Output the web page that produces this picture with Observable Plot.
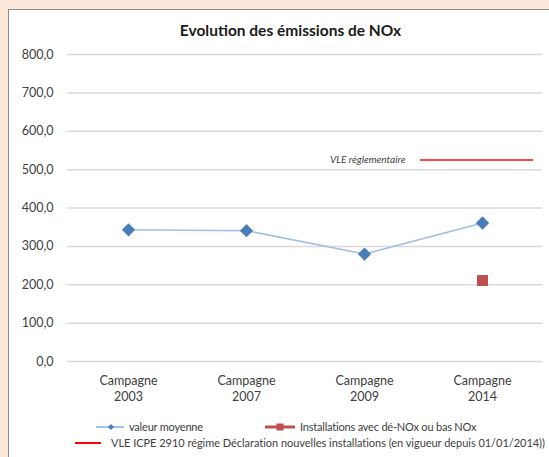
<!DOCTYPE html>
<html><head><meta charset="utf-8">
<script src="https://cdn.jsdelivr.net/npm/d3@7"></script>
<script src="https://cdn.jsdelivr.net/npm/@observablehq/plot@0.6"></script>
<style>
html,body{margin:0;padding:0;width:549px;height:457px;overflow:hidden;background:#fde9d9;font-family:Lato,"Open Sans",sans-serif;}
#box{position:absolute;left:8px;top:9px;width:560px;height:470px;background:#fff;border:1px solid #8c8c8c;box-sizing:border-box;}
#title{position:absolute;left:0;top:21px;width:581px;text-align:center;font-weight:bold;font-size:15.5px;color:#1a1a1a;line-height:18px;}
#chart{position:absolute;left:0;top:46px;}
.lg{position:absolute;font-size:11px;letter-spacing:-0.2px;color:#404040;white-space:nowrap;line-height:14px;display:flex;align-items:center;}
.lg svg{margin-right:3px;}
</style></head>
<body>
<div id="box"></div>
<div id="title">Evolution des émissions de NOx</div>
<div id="chart"></div>
<div class="lg" style="left:96px;top:420px;"><svg width="30" height="10"><line x1="0" y1="5" x2="28" y2="5" stroke="#9dc3e6" stroke-width="2"/><path d="M15 2L18 5L15 8L12 5Z" fill="#4a7ebb"/></svg><span id="l1"></span></div>
<div class="lg" style="left:265px;top:420px;"><svg width="32" height="10"><line x1="0" y1="5" x2="30" y2="5" stroke="#c0504d" stroke-width="3"/><rect x="11.5" y="1.5" width="7" height="7" fill="#c0504d"/></svg><span id="l2"></span></div>
<div class="lg" style="left:75px;top:436px;letter-spacing:-0.03px;"><svg width="33" height="10"><line x1="0" y1="5" x2="26" y2="5" stroke="#ff0000" stroke-width="2"/></svg><span id="l3"></span></div>
<script>
const categories = ["2003", "2007", "2009", "2014"];
const moyenne = [343, 341, 280, 361];
const deNoxCategories = ["2014"];
const deNoxValues = [211];
const vleCategory = "2014";
const vleValue = 525;
const vleLabel = "VLE réglementaire";
const yTicks = [0, 100, 200, 300, 400, 500, 600, 700, 800];
const legendLabels = ["valeur moyenne", "Installations avec dé-NOx ou bas NOx", "VLE ICPE 2910 régime Déclaration nouvelles installations (en vigueur depuis 01/01/2014))"];

document.getElementById("l1").textContent = legendLabels[0];
document.getElementById("l2").textContent = legendLabels[1];
document.getElementById("l3").textContent = legendLabels[2];

const mean = categories.map((c, i) => ({c, v: moyenne[i]}));
const denox = deNoxCategories.map((c, i) => ({c, v: deNoxValues[i]}));
const vle = [{c: vleCategory, v: vleValue}];
const fmt = d => d3.format(".1f")(d).replace(".", ",");

const chart = Plot.plot({
  width: 549,
  height: 365,
  marginLeft: 67,
  marginRight: 7,
  marginTop: 8,
  marginBottom: 50,
  style: {fontFamily: "Lato, 'Open Sans', sans-serif", background: "transparent", color: "#404040"},
  x: {type: "point", domain: categories, padding: 0.5},
  y: {domain: [0, 800]},
  marks: [
    Plot.gridY(yTicks, {stroke: "#d9d9d9", strokeOpacity: 1, strokeWidth: 1.5}),
    Plot.axisY(yTicks, {tickSize: 0, tickPadding: 14, tickFormat: fmt, fontSize: 12.5, label: null, fill: "#404040"}),
    Plot.axisX({tickSize: 0, tickPadding: 12, tickFormat: d => "Campagne\n" + d, fontSize: 12.5, lineHeight: 1.3, label: null, fill: "#404040"}),
    Plot.ruleY(vle, {y: "v", x1: "c", x2: "c", insetLeft: -62, insetRight: -51, stroke: "#ff4545", strokeWidth: 2}),
    Plot.text(vle, {x: "c", y: "v", text: () => vleLabel, dx: -77, textAnchor: "end", fontStyle: "italic", fontSize: 10, fill: "#404040"}),
    Plot.line(mean, {x: "c", y: "v", stroke: "#9dbfe6", strokeWidth: 1.5}),
    Plot.dot(mean, {x: "c", y: "v", symbol: "diamond2", r: 6, fill: "#4a7ebb", stroke: "none"}),
    Plot.dot(denox, {x: "c", y: "v", symbol: "square", r: 6.2, fill: "#c0504d", stroke: "none"})
  ]
});
document.getElementById("chart").appendChild(chart);
</script>
</body></html>
